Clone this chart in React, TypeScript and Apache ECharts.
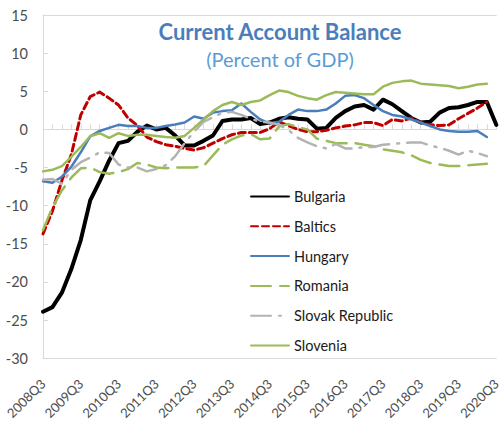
import React, { useEffect, useRef } from "react";
import * as echarts from "echarts";

const categories = [
  "2008Q3", "2008Q4",
  "2009Q1", "2009Q2", "2009Q3", "2009Q4",
  "2010Q1", "2010Q2", "2010Q3", "2010Q4",
  "2011Q1", "2011Q2", "2011Q3", "2011Q4",
  "2012Q1", "2012Q2", "2012Q3", "2012Q4",
  "2013Q1", "2013Q2", "2013Q3", "2013Q4",
  "2014Q1", "2014Q2", "2014Q3", "2014Q4",
  "2015Q1", "2015Q2", "2015Q3", "2015Q4",
  "2016Q1", "2016Q2", "2016Q3", "2016Q4",
  "2017Q1", "2017Q2", "2017Q3", "2017Q4",
  "2018Q1", "2018Q2", "2018Q3", "2018Q4",
  "2019Q1", "2019Q2", "2019Q3", "2019Q4",
  "2020Q1", "2020Q2", "2020Q3",
];

const bulgaria = [
  -23.9, -23.3, -21.4, -18.3, -14.5, -9.3, -6.8, -4.1, -1.8, -1.5,
  -0.3, 0.5, 0.0, 0.2, -0.8, -2.1, -2.1, -1.5, -0.8, 1.1,
  1.3, 1.3, 1.5, 0.7, 0.9, 1.4, 1.6, 1.4, 1.3, 0.1,
  0.2, 1.5, 2.4, 3.0, 3.2, 2.6, 3.9, 3.3, 2.4, 1.5,
  0.9, 1.0, 2.2, 2.8, 2.9, 3.2, 3.6, 3.6, 0.6,
];

const baltics = [
  -13.7, -10.7, -6.7, -3.3, 1.9, 4.3, 4.9, 4.1, 3.2, 1.5,
  0.5, -1.0, -1.6, -2.0, -2.2, -2.5, -2.7, -2.4, -1.8, -1.2,
  -0.7, -0.4, -0.4, -0.4, 0.1, 1.0, 0.5, 0.0, -0.3, -0.3,
  -0.1, 0.2, 0.45, 0.6, 0.9, 0.9, 0.5, 1.3, 1.1, 1.5,
  0.9, 0.6, 0.5, 0.6, 1.4, 2.1, 2.8, 3.6,
];

const hungary = [
  -6.8, -7.0, -6.2, -4.9, -3.0, -0.9, -0.2, 0.2, 0.6, 0.45,
  0.45, 0.2, 0.2, 0.45, 0.65, 0.9, 1.7, 1.4, 2.2, 2.4,
  2.5, 3.4, 2.3, 1.3, 0.8, 1.0, 1.9, 2.6, 2.4, 2.4,
  2.6, 3.4, 4.4, 4.5, 4.1, 3.2, 2.4, 1.9, 1.7, 1.3,
  0.9, 0.45, 0.0, -0.2, -0.3, -0.3, -0.2, -1.0,
];

const romania = [
  -13.2, -10.2, -8.0, -6.3, -5.1, -5.0, -5.6, -5.8, -5.6, -5.2,
  -4.4, -4.6, -5.0, -5.1, -5.0, -5.0, -5.0, -4.8, -3.4, -2.0,
  -1.3, -0.8, -0.6, -1.3, -1.2, 0.4, 0.7, 0.3, 0.0, -1.2,
  -1.5, -1.8, -1.8, -1.8, -2.0, -2.2, -2.6, -2.8, -3.0, -3.4,
  -4.0, -4.4, -4.6, -4.8, -4.8, -4.7, -4.6, -4.5,
];

const slovakRepublic = [
  -6.6, -6.5, -7.1, -5.3, -4.3, -3.7, -3.0, -3.1, -4.6, -5.0,
  -5.0, -5.5, -5.2, -4.7, -3.5, -1.8, -0.3, 1.0, 1.6, 2.2,
  2.3, 1.9, 1.4, 1.0, 0.9, 0.6, -0.1, -1.1, -1.7, -2.2,
  -2.5, -1.9, -2.5, -2.5, -2.3, -2.3, -2.0, -1.9, -1.8, -1.7,
  -1.7, -2.1, -2.4, -2.8, -3.3, -2.8, -3.1, -3.5,
];

const slovenia = [
  -5.5, -5.3, -4.8, -3.6, -2.3, -0.9, -0.5, -1.1, -0.5, -0.85,
  -0.7, -0.7, -0.85, -1.0, -1.1, -0.85, 0.2, 1.3, 2.4, 3.2,
  3.6, 3.2, 3.6, 3.8, 4.5, 5.1, 4.9, 4.4, 4.1, 3.9,
  4.5, 4.9, 4.8, 4.7, 4.6, 4.6, 5.6, 6.1, 6.3, 6.4,
  6.0, 5.9, 5.8, 5.7, 5.4, 5.6, 5.9, 6.0,
];

const seriesNames = ["Bulgaria", "Baltics", "Hungary", "Romania", "Slovak Republic", "Slovenia"];

const FONT = "Lato";
const AXIS_GRAY = "#d9d9d9";
const LABEL_GRAY = "#4d4d4d";

export default function App() {
  const ref = useRef<HTMLDivElement>(null);

  useEffect(() => {
    if (!ref.current) return;
    const chart = echarts.init(ref.current, undefined, { renderer: "svg" });

    const mkLine = (
      name: string,
      data: number[],
      color: string,
      width: number,
      type: any
    ) => ({
      name,
      type: "line",
      data,
      xAxisIndex: 0,
      yAxisIndex: 0,
      symbol: "none",
      showSymbol: false,
      color,
      itemStyle: { color },
      lineStyle: { color, width, type, cap: "round", join: "round" },
      emphasis: { disabled: true },
    });

    chart.setOption({
      animation: false,
      textStyle: { fontFamily: FONT },
      grid: { left: 43, right: 2, top: 15, bottom: 56, containLabel: false },
      graphic: [
        {
          type: "text",
          x: 280,
          y: 31,
          style: {
            text: "Current Account Balance",
            textAlign: "center",
            textVerticalAlign: "middle",
            fontFamily: FONT,
            fontSize: 22,
            fontWeight: "bold",
            fill: "#4a7ebb",
          },
        },
        {
          type: "text",
          x: 280,
          y: 59,
          style: {
            text: "(Percent of GDP)",
            textAlign: "center",
            textVerticalAlign: "middle",
            fontFamily: FONT,
            fontSize: 20,
            fill: "#5b9bd5",
          },
        },
      ],
      legend: {
        orient: "vertical",
        left: 245,
        top: 184,
        itemWidth: 38,
        itemHeight: 14,
        itemGap: 14.8,
        data: seriesNames,
        itemStyle: { opacity: 0 },
        textStyle: { fontFamily: FONT, fontSize: 14.5, color: "#1a1a1a" },
        selectedMode: false,
      },
      xAxis: [
        {
          type: "category",
          data: categories,
          boundaryGap: false,
          position: "bottom",
          axisLine: { onZero: false, lineStyle: { color: AXIS_GRAY, width: 1 } },
          axisTick: { show: false },
          axisLabel: {
            interval: 3,
            rotate: 45,
            fontFamily: FONT,
            fontSize: 13,
            color: LABEL_GRAY,
            margin: 23,
          },
          splitLine: { show: false },
        },
        {
          type: "category",
          data: categories,
          boundaryGap: false,
          position: "bottom",
          axisLine: { onZero: true, lineStyle: { color: AXIS_GRAY, width: 1 } },
          axisTick: {
            show: true,
            inside: true,
            length: 5,
            interval: 0,
            lineStyle: { color: AXIS_GRAY },
          },
          axisLabel: { show: false },
          splitLine: { show: false },
        },
        {
          type: "category",
          data: categories,
          boundaryGap: false,
          position: "top",
          axisLine: { onZero: false, lineStyle: { color: AXIS_GRAY, width: 1 } },
          axisTick: { show: false },
          axisLabel: { show: false },
          splitLine: { show: false },
        },
      ],
      yAxis: {
        type: "value",
        min: -30,
        max: 15,
        interval: 5,
        axisLine: { show: true, lineStyle: { color: AXIS_GRAY, width: 1 } },
        axisTick: { show: true, inside: true, length: 5, lineStyle: { color: AXIS_GRAY } },
        axisLabel: { fontFamily: FONT, fontSize: 14.5, color: LABEL_GRAY, margin: 15 },
        splitLine: { show: false },
      },
      series: [
        mkLine("Bulgaria", bulgaria, "#000000", 4, "solid"),
        mkLine("Baltics", baltics, "#c00000", 3, [7, 4]),
        mkLine("Hungary", hungary, "#4a7ebb", 2.5, "solid"),
        mkLine("Romania", romania, "#9bbb59", 2.5, [20, 9]),
        mkLine("Slovak Republic", slovakRepublic, "#b3b3b3", 2.5, [20, 8, 2, 8]),
        mkLine("Slovenia", slovenia, "#9bbb59", 2.5, "solid"),
      ],
    });

    return () => chart.dispose();
  }, []);

  return (
    <div
      ref={ref}
      style={{ position: "absolute", left: 0, top: 0, width: 503, height: 422 }}
    />
  );
}
